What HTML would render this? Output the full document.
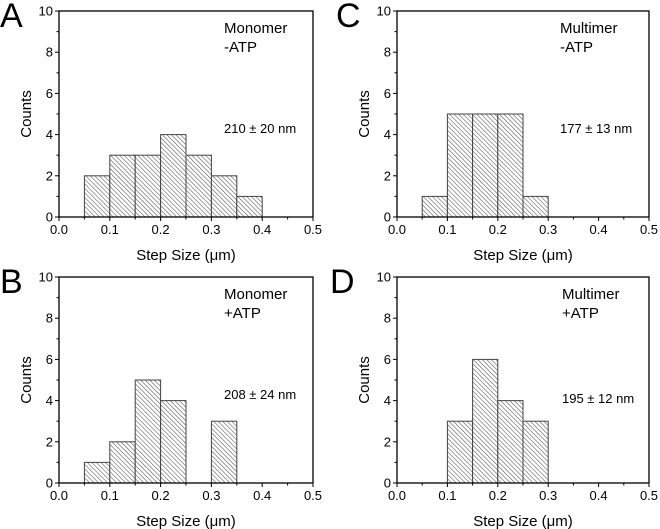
<!DOCTYPE html>
<html><head><meta charset="utf-8"><style>
html,body{margin:0;padding:0;background:#fff}
svg{display:block;font-family:"Liberation Sans",Arial,sans-serif}
</style></head><body>
<svg id="fig" width="660" height="529" viewBox="0 0 660 529" xmlns="http://www.w3.org/2000/svg">
<defs>
<pattern id="hatch" patternUnits="userSpaceOnUse" width="3.2" height="3.2" patternTransform="rotate(-45)">
<rect width="3.2" height="3.2" fill="#fff"/>
<line x1="0" y1="0" x2="0" y2="3.2" stroke="#555" stroke-width="1.1"/>
</pattern>
</defs>
</svg>
<script>
const binStartsA=[0.05,0.10,0.15,0.20,0.25,0.30,0.35];
const countsA=[2,3,3,4,3,2,1];
const binStartsB=[0.05,0.10,0.15,0.20,0.25,0.30];
const countsB=[1,2,5,4,0,3];
const binStartsC=[0.05,0.10,0.15,0.20,0.25];
const countsC=[1,5,5,5,1];
const binStartsD=[0.10,0.15,0.20,0.25];
const countsD=[3,6,4,3];
const binWidth=0.05;
const xTicks=[0,0.1,0.2,0.3,0.4,0.5];
const xTickLabels=["0.0","0.1","0.2","0.3","0.4","0.5"];
const yTicks=[0,2,4,6,8,10];
const panelLetters=["A","B","C","D"];
const labels1=["Monomer","Monomer","Multimer","Multimer"];
const labels2=["-ATP","+ATP","-ATP","+ATP"];
const statLabels=["210 \u00b1 20 nm","208 \u00b1 24 nm","177 \u00b1 13 nm","195 \u00b1 12 nm"];

const NS="http://www.w3.org/2000/svg";
const svg=document.getElementById('fig');
function mk(tag,attrs,parent,text){const e=document.createElementNS(NS,tag);for(const k in attrs)e.setAttribute(k,attrs[k]);if(text!==undefined)e.textContent=text;(parent||svg).appendChild(e);return e;}

const panels=[
 {l:59,r:313,t:11,b:217,starts:binStartsA,counts:countsA,lx:0,ly:27,ax:224,stY:133},
 {l:59,r:313,t:277,b:483,starts:binStartsB,counts:countsB,lx:0,ly:293,ax:224,stY:399},
 {l:397,r:649,t:11,b:217,starts:binStartsC,counts:countsC,lx:336,ly:27,ax:560,stY:133},
 {l:397,r:649,t:277,b:483,starts:binStartsD,counts:countsD,lx:330,ly:293,ax:562,stY:403}
];
panels.forEach((p,i)=>{
 const g=mk('g',{});
 
 
 const xs=v=>p.l+(v-0)/(0.5)*(p.r-p.l);
 const ys=v=>p.b-v/10*(p.b-p.t);
 p.starts.forEach((s,j)=>{
  if(p.counts[j]<=0)return;
  const r=mk('rect',{x:xs(s),y:ys(p.counts[j]),width:xs(s+binWidth)-xs(s),height:ys(0)-ys(p.counts[j]),fill:'url(#hatch)',stroke:'#444','stroke-width':1},g);
  
  
 });
 const fr=mk('rect',{x:p.l,y:p.t,width:p.r-p.l,height:p.b-p.t,fill:'none',stroke:'#000','stroke-width':1.3},g);
 
 
 xTicks.forEach((v,k)=>{
  mk('line',{x1:xs(v),x2:xs(v),y1:p.b,y2:p.b+4,stroke:'#000'},g);
  if(k<xTicks.length-1)mk('line',{x1:xs(v+0.05),x2:xs(v+0.05),y1:p.b,y2:p.b+2.5,stroke:'#000'},g);
  const t=mk('text',{x:xs(v),y:p.b+17,'font-size':13,'text-anchor':'middle'},g,xTickLabels[k]);
  
  
 });
 yTicks.forEach((v,k)=>{
  mk('line',{x1:p.l-4,x2:p.l,y1:ys(v),y2:ys(v),stroke:'#000'},g);
  if(k<yTicks.length-1)mk('line',{x1:p.l-2.5,x2:p.l,y1:ys(v+1),y2:ys(v+1),stroke:'#000'},g);
  const t=mk('text',{x:p.l-6,y:ys(v)+4.5,'font-size':13,'text-anchor':'end'},g,String(v));
  
  
 });
 const xt=mk('text',{x:(p.l+p.r)/2,y:p.b+43,'font-size':15,'text-anchor':'middle'},g,'Step Size (\u03bcm)');
 
 
 const yt=mk('text',{x:0,y:0,'font-size':15,'text-anchor':'middle',transform:`translate(${p.l-28},${(p.t+p.b)/2}) rotate(-90)`},g,'Counts');
 
 
 const L=mk('text',{x:p.lx,y:p.ly,'font-size':34},g,panelLetters[i]);
 
 
 const a1=mk('text',{x:p.ax,y:p.t+22,'font-size':15},g,labels1[i]);
 
 
 const a2=mk('text',{x:p.ax,y:p.t+41,'font-size':15},g,labels2[i]);
 
 
 const st=mk('text',{x:p.ax,y:p.stY,'font-size':13},g,statLabels[i]);
 
 
});
</script>
</body></html>
